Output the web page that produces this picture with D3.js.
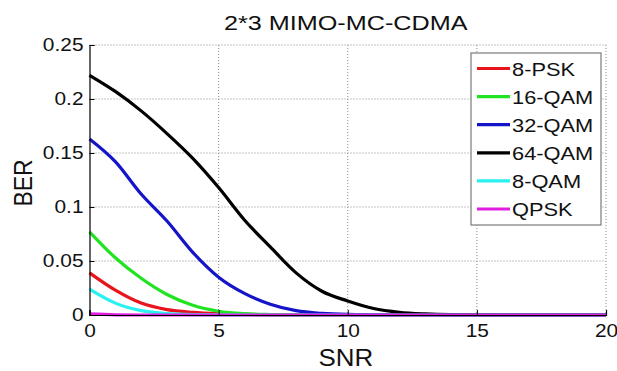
<!DOCTYPE html>
<html>
<head>
<meta charset="utf-8">
<script src="https://cdn.jsdelivr.net/npm/d3@7"></script>
<style>
  body { margin: 0; background: #fff; }
  text { font-family: "Liberation Sans", Arial, sans-serif; fill: #111; }
</style>
</head>
<body>
<div id="chart"></div>
<script>
// chart values
var snr = [0, 1, 2, 3, 4, 5, 6, 7, 8, 9, 10, 11, 12, 13, 14, 15, 16, 17, 18, 19, 20];
var ber8psk  = [0.039, 0.023, 0.011, 0.005, 0.0025, 0.0012, 0.0005, 0.0002, 0.0001, 0, 0, 0, 0, 0, 0, 0, 0, 0, 0, 0, 0];
var ber16qam = [0.077, 0.053, 0.034, 0.019, 0.009, 0.0035, 0.0012, 0.0004, 0.0001, 0, 0, 0, 0, 0, 0, 0, 0, 0, 0, 0, 0];
var ber32qam = [0.163, 0.142, 0.112, 0.087, 0.058, 0.035, 0.020, 0.010, 0.004, 0.0015, 0.0005, 0.0002, 0, 0, 0, 0, 0, 0, 0, 0, 0];
var ber64qam = [0.222, 0.207, 0.189, 0.168, 0.145, 0.118, 0.088, 0.063, 0.039, 0.022, 0.013, 0.006, 0.0025, 0.001, 0.0003, 0.0001, 0, 0, 0, 0, 0];
var ber8qam  = [0.024, 0.011, 0.004, 0.0012, 0.0003, 0.0001, 0, 0, 0, 0, 0, 0, 0, 0, 0, 0, 0, 0, 0, 0, 0];
var berqpsk  = [0.001, 0.0002, 0, 0, 0, 0, 0, 0, 0, 0, 0, 0, 0, 0, 0, 0, 0, 0, 0, 0, 0];

var seriesNames = ["8-PSK", "16-QAM", "32-QAM", "64-QAM", "8-QAM", "QPSK"];
var seriesValues = [ber8psk, ber16qam, ber32qam, ber64qam, ber8qam, berqpsk];
var seriesColors = ["#e8141c", "#22e322", "#1414c8", "#000000", "#2af0f0", "#e01ee0"];

var xTicks = [0, 5, 10, 15, 20];
var yTicks = [0, 0.05, 0.1, 0.15, 0.2, 0.25];
var yTickLabels = ["0", "0.05", "0.1", "0.15", "0.2", "0.25"];

// the source image is a bit wider than tall, so text gets a horizontal stretch
var stretch = 1.13;

var svgWidth = 617;
var svgHeight = 371;
var margin = { top: 45, right: 11, bottom: 56, left: 89.5 };
var chartWidth = svgWidth - margin.left - margin.right;
var chartHeight = svgHeight - margin.top - margin.bottom;

var svg = d3.select("#chart")
  .append("svg")
  .attr("width", svgWidth)
  .attr("height", svgHeight);

var chartGroup = svg.append("g")
  .attr("transform", `translate(${margin.left}, ${margin.top})`);

var xScale = d3.scaleLinear().domain([0, 20]).range([0, chartWidth]);
var yScale = d3.scaleLinear().domain([0, 0.25]).range([chartHeight, 0]);

// dotted grid
chartGroup.append("g").selectAll("line")
  .data(xTicks.slice(1))
  .enter().append("line")
  .attr("x1", d => xScale(d)).attr("x2", d => xScale(d))
  .attr("y1", 0).attr("y2", chartHeight)
  .attr("stroke", "#8a8a8a").attr("stroke-width", 1)
  .attr("stroke-dasharray", "1,2");

chartGroup.append("g").selectAll("line")
  .data(yTicks.slice(1))
  .enter().append("line")
  .attr("x1", 0).attr("x2", chartWidth)
  .attr("y1", d => yScale(d)).attr("y2", d => yScale(d))
  .attr("stroke", "#8a8a8a").attr("stroke-width", 1)
  .attr("stroke-dasharray", "1,2");

// curves
var line = d3.line()
  .x((d, i) => xScale(snr[i]))
  .y(d => yScale(d))
  .curve(d3.curveMonotoneX);

chartGroup.selectAll(".curve")
  .data(seriesValues)
  .enter().append("path")
  .attr("class", "curve")
  .attr("d", d => line(d))
  .attr("fill", "none")
  .attr("stroke", (d, i) => seriesColors[i])
  .attr("stroke-width", 3.2)
  .attr("stroke-linejoin", "round");

// axes, matlab style ticks pointing inward
var bottomAxis = d3.axisBottom(xScale).tickValues(xTicks).tickSize(-5).tickPadding(9).tickFormat(d3.format("d"));
var leftAxis = d3.axisLeft(yScale).tickValues(yTicks).tickSize(-5).tickPadding(6)
  .tickFormat((d, i) => yTickLabels[i]);

var xAxisG = chartGroup.append("g")
  .attr("transform", `translate(0, ${chartHeight})`)
  .call(bottomAxis);
var yAxisG = chartGroup.append("g").call(leftAxis);

[xAxisG, yAxisG].forEach(function(g) {
  g.select(".domain").attr("stroke", "#000").attr("stroke-width", 1.2);
  g.selectAll(".tick line").attr("stroke", "#000");
  g.selectAll(".tick text")
    .attr("font-size", 18.5)
    .attr("font-family", "Liberation Sans, Arial, sans-serif")
    .attr("fill", "#111");
});
xAxisG.selectAll(".tick text").attr("transform", `scale(${stretch},1)`)
  .attr("x", 0);
yAxisG.selectAll(".tick text").each(function() {
  var t = d3.select(this);
  var x = +t.attr("x");
  t.attr("x", x / stretch).attr("transform", `scale(${stretch},1)`);
});

// title and axis labels
svg.append("text")
  .attr("transform", `translate(${margin.left + chartWidth / 2 - 2}, 30) scale(1.2,1)`)
  .attr("text-anchor", "middle")
  .attr("font-size", 21)
  .text("2*3 MIMO-MC-CDMA");

svg.append("text")
  .attr("transform", `translate(${margin.left + chartWidth / 2 - 2}, 366) scale(1.08,1)`)
  .attr("text-anchor", "middle")
  .attr("font-size", 24)
  .text("SNR");

svg.append("text")
  .attr("transform", `translate(32, ${margin.top + chartHeight / 2 + 3}) scale(1.1,1) rotate(-90)`)
  .attr("text-anchor", "middle")
  .attr("font-size", 23)
  .text("BER");

// legend
var legendBox = { x: 471, y: 53, w: 130, h: 172 };
svg.append("rect")
  .attr("x", legendBox.x).attr("y", legendBox.y)
  .attr("width", legendBox.w).attr("height", legendBox.h)
  .attr("fill", "#fff").attr("stroke", "#7a7a7a").attr("stroke-width", 1.2);

var lineLegend = svg.selectAll(".lineLegend").data(seriesNames)
  .enter().append("g")
  .attr("class", "lineLegend")
  .attr("transform", (d, i) => `translate(${legendBox.x + 6}, ${legendBox.y + 15.5 + i * 28.1})`);

lineLegend.append("line")
  .attr("x1", 0).attr("x2", 33)
  .attr("y1", 0).attr("y2", 0)
  .attr("stroke", (d, i) => seriesColors[i])
  .attr("stroke-width", 3.2);

lineLegend.append("text")
  .attr("transform", `translate(35, 7) scale(1.18,1)`)
  .attr("font-size", 18.5)
  .text(d => d);
</script>
</body>
</html>
